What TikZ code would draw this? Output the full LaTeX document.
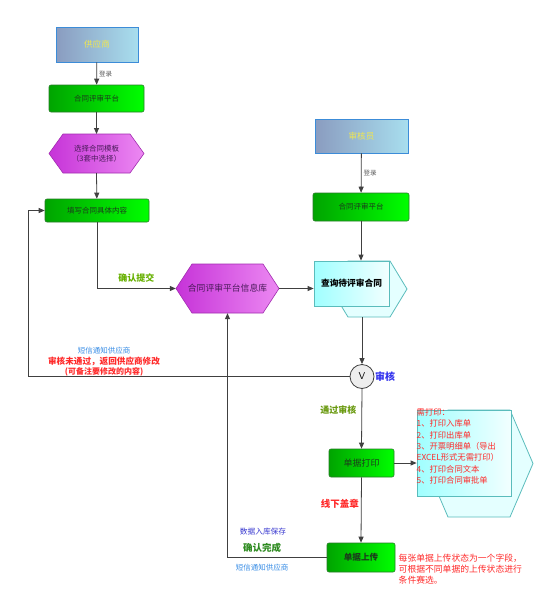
\documentclass[tikz,border=0pt]{standalone}
\usepackage{fontspec}
\setmainfont{Noto Sans CJK SC}
\usetikzlibrary{arrows.meta,calc}
\definecolor{lnc}{HTML}{404040}
\definecolor{rolel}{HTML}{8A9CC0}
\definecolor{roler}{HTML}{A8DEEE}
\definecolor{roled}{HTML}{3C8CD8}
\definecolor{rolet}{HTML}{F0E650}
\definecolor{gl}{HTML}{00A400}
\definecolor{gr}{HTML}{00FF00}
\definecolor{gd}{HTML}{2A7A2A}
\definecolor{gt}{HTML}{1C3C1C}
\definecolor{ml}{HTML}{C633D8}
\definecolor{mr}{HTML}{EC88F2}
\definecolor{md}{HTML}{A22CB0}
\definecolor{mt}{HTML}{4A1A5A}
\definecolor{cl}{HTML}{A0FFFF}
\definecolor{cr}{HTML}{F2FFFF}
\definecolor{cb}{HTML}{E4FFFF}
\definecolor{cd}{HTML}{5ABCBC}
\definecolor{redt}{HTML}{FF2A2A}
\definecolor{bluel}{HTML}{3A8EE6}
\definecolor{blued}{HTML}{3838D0}
\definecolor{bluea}{HTML}{3333EE}
\definecolor{greena}{HTML}{66B000}
\definecolor{greenb}{HTML}{6A9A10}
\definecolor{greenc}{HTML}{2E8B20}
\tikzset{
  fs/.style={font=\fontsize{#1}{#1}\selectfont},
  fsl/.style 2 args={font=\fontsize{#1}{#2}\selectfont},
  rolebox/.style={draw=roled,line width=0.8pt,left color=rolel,right color=roler,text=rolet,fs=8.6,inner sep=0pt},
  greenbox/.style={draw=gd,line width=0.6pt,rounded corners=2pt,left color=gl,right color=gr,text=gt,fs=7.5,inner sep=0pt},
  hexbox/.style={draw=md,line width=0.6pt,left color=ml,right color=mr},
  hextext/.style={text=mt,inner sep=0pt,align=center},
  cyanback/.style={draw=cd,line width=0.8pt,fill=cb},
  cyanfront/.style={draw=cd,line width=0.8pt,left color=cl,right color=cr,inner sep=0pt},
  arr/.style={draw=lnc,line width=0.8pt,-{Triangle[length=6pt,width=5pt]}},
  ln/.style={draw=lnc,line width=0.8pt},
  lbl/.style={inner sep=0pt}
}
\begin{document}
\begin{tikzpicture}[x=1pt,y=-1pt]
\useasboundingbox[fill=white] (0,0) rectangle (552,600);
% left column
\node[rolebox,minimum width=82pt,minimum height=35pt] (sup) at (97,44.5) {供应商};
\node[greenbox,minimum width=95pt,minimum height=27pt] (p1) at (96.5,98.5) {合同评审平台};
\path[hexbox] (49,153.5) -- (63,134) -- (130,134) -- (144,153.5) -- (130,173) -- (63,173) -- cycle;
\node[hextext,fsl={7.5}{10},minimum width=95pt,minimum height=39pt] (hex1) at (96.5,153.5) {选择合同模板\\（3套中选择）};
\node[greenbox,minimum width=104pt,minimum height=23pt] (fill) at (97,210.5) {填写合同具体内容};
% middle hex
\path[hexbox] (176,288.5) -- (192,264) -- (263,264) -- (279,288.5) -- (263,313) -- (192,313) -- cycle;
\node[hextext,fs=8.8,minimum width=103pt,minimum height=49pt] (hex2) at (227.5,288.5) {合同评审平台信息库};
% right column
\node[rolebox,minimum width=93pt,minimum height=34pt] (aud) at (361.5,136) {审核员};
\node[greenbox,minimum width=96pt,minimum height=28pt] (p2) at (361,207) {合同评审平台};
\path[cyanback] (348,261) -- (390,261) -- (407,289) -- (390,317) -- (348,317) -- (331,289) -- cycle;
\node[cyanfront,minimum width=75pt,minimum height=45pt,fs=8.7] (query) at (351.5,283.5) {\textbf{查询待评审合同}};
\coordinate (qb) at (362,317);
\node[circle,draw=lnc,line width=0.8pt,fill=black!7,minimum size=24pt,inner sep=0pt,font=\sffamily\fontsize{10}{10}\selectfont] (circ) at (362,376.5) {V};
\node[lbl,fs=10,text=bluea,anchor=west] (shlbl) at (375,377) {\textbf{审核}};
\node[greenbox,minimum width=65pt,minimum height=28pt,fs=9] (print) at (361.5,463) {单据打印};
\path[cyanback] (448,410) -- (510,410) -- (533,463.5) -- (510,517) -- (448,517) -- (425,463.5) -- cycle;
\node[cyanfront,minimum width=94pt,minimum height=86pt] (note) at (464,453) {};
\node[lbl,anchor=north west,text=redt,fsl={8.3}{11.3},align=left] (notetxt) at (416.5,408.5) {需打印：\\1、打印入库单\\2、打印出库单\\3、开票明细单（导出\\EXCEL形式无需打印）\\4、打印合同文本\\5、打印合同审批单};
\node[greenbox,minimum width=68pt,minimum height=29pt,fs=8.6] (upload) at (361,557.5) {\textbf{单据上传}};
\node[lbl,anchor=north west,text=redt,fsl={8.8}{11},align=left] (rednote) at (398.5,553.5) {每张单据上传状态为一个字段，\\可根据不同单据的上传状态进行\\条件赛选。};
\coordinate (ret) at (28,376.5);
% connectors
\draw[arr] (sup) -- node[lbl,right=2pt,fs=6.5,text=black!65] (l1) {登录} (p1);
\draw[arr] (p1) -- (96.5,134);
\draw[arr] (96.5,173) -- (fill);
\draw[arr] (fill.south) |- (hex2.west) node[lbl,pos=0.75,above=6pt,fs=9,text=greena] (l2) {\textbf{确认提交}};
\draw[arr] (hex2.east) -- (hex2.east -| query.west);
\draw[arr] (aud) -- node[lbl,right=2pt,fs=6.5,text=black!65] (l3) {登录} (p2);
\draw[arr] (p2.south) -- (p2.south |- query.north);
\draw[arr] (qb) -- (circ.north);
\draw[arr] (circ.south) -- node[lbl,left=5pt,pos=0.35,fs=9,text=greenb] (l4) {\textbf{通过审核}} (print.north);
\draw[arr] (print.east) -- (print.east -| note.west);
\draw[arr] (print.south) -- node[lbl,left=2pt,pos=0.4,fs=9.5,text=redt] (l5) {\textbf{线下盖章}} (upload.north);
\draw[arr] (circ.west) -- (ret) |- (fill.west);
\draw[arr] (upload.west) -| (hex2.south);
% labels
\node[lbl,fs=7.5,text=bluel] (n1) at (104,351) {短信通知供应商};
\node[lbl,fs=8.6,text=redt] (n2) at (104,361.5) {\textbf{审核未通过，返回供应商修改}};
\node[lbl,fs=8,text=redt] (n3) at (104,372) {\textbf{(可备注要修改的内容)}};
\node[lbl,fs=7.7,text=blued] (n4) at (263,532) {数据入库保存};
\node[lbl,fs=9.5,text=greenc] (n5) at (262,547.5) {\textbf{确认完成}};
\node[lbl,fs=7.5,text=bluel] (n6) at (262,567.5) {短信通知供应商};
\end{tikzpicture}
\end{document}
